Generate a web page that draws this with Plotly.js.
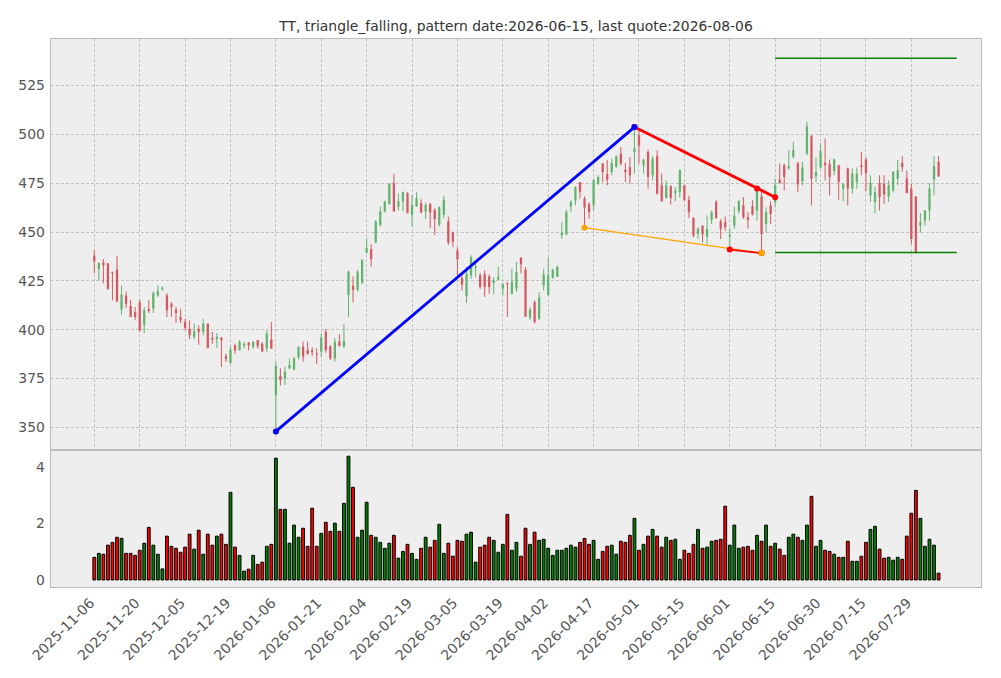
<!DOCTYPE html>
<html><head><meta charset="utf-8">
<script src="https://cdn.plot.ly/plotly-3.0.1.min.js"></script>
<style>html,body{margin:0;padding:0;background:#fff}#chart{width:1001px;height:678px}</style>
</head><body><div id="chart"></div>
<script>
const chartTitle = 'TT, triangle_falling, pattern date:2026-06-15, last quote:2026-08-06';

// tick labels (every 10th trading day)
const tickLabels = ['2025-11-06','2025-11-20','2025-12-05','2025-12-19','2026-01-06','2026-01-21','2026-02-04','2026-02-19','2026-03-05','2026-03-19','2026-04-02','2026-04-17','2026-05-01','2026-05-15','2026-06-01','2026-06-15','2026-06-30','2026-07-15','2026-07-29'];
const tickStep = 10;

const open = [437.9,431.0,434.4,434.0,429.4,430.8,410.4,417.5,412.1,409.0,
414.1,402.5,410.5,410.7,417.5,420.6,417.5,413.3,410.2,406.5,
403.9,400.5,396.3,400.5,398.8,403.1,395.7,395.2,395.9,386.4,
383.0,392.0,389.4,392.0,393.4,391.2,394.6,392.8,390.3,394.9,
366.6,376.3,375.1,380.2,379.7,385.9,391.3,389.6,389.3,387.9,
388.8,399.0,391.3,385.3,393.9,391.3,417.8,422.4,420.4,424.1,
439.5,441.2,444.6,453.7,460.5,464.4,475.0,463.0,465.6,469.9,
458.8,463.0,464.8,460.5,464.4,461.3,453.7,458.8,455.4,449.7,
440.5,426.5,417.1,427.8,431.7,427.8,428.3,427.3,423.9,425.6,
421.0,423.9,418.4,421.0,436.7,430.7,406.1,414.2,405.6,422.7,
417.6,426.6,427.0,448.3,448.8,463.1,466.2,475.6,467.1,464.2,
463.7,474.7,485.0,479.5,480.7,483.3,490.1,481.9,483.3,491.0,
499.5,484.1,491.0,479.0,488.8,473.9,467.5,473.4,469.9,470.4,
473.9,466.5,457.2,449.0,453.3,447.6,456.2,465.3,455.5,455.0,
447.6,453.3,460.7,463.6,457.6,463.1,461.0,468.2,454.1,463.6,
465.3,476.8,484.2,482.5,488.5,485.1,476.1,490.2,499.1,478.5,
483.0,485.4,484.7,481.3,484.2,472.2,482.5,472.2,475.6,484.2,
487.1,468.7,465.3,475.1,474.7,468.2,471.3,477.3,485.4,477.3,
472.2,468.2,453.3,455.8,461.0,476.8,485.9];

const high = [440.8,434.4,436.2,434.0,429.8,437.9,422.6,419.6,415.3,411.6,
415.3,411.6,415.0,419.6,422.6,422.1,418.7,414.1,411.6,410.7,
405.6,404.8,403.1,402.2,405.6,403.1,398.8,398.3,396.3,387.7,
391.5,392.8,394.6,393.7,393.7,394.2,394.9,393.7,399.7,403.9,
383.6,380.2,381.1,385.3,386.2,391.7,393.9,393.9,391.0,390.5,
398.2,400.4,392.2,395.6,397.6,402.9,430.1,427.2,430.6,436.1,
446.8,443.7,456.2,463.0,466.0,475.0,479.8,469.9,470.7,470.4,
469.0,470.4,466.8,465.1,464.8,462.2,463.0,468.5,457.9,450.2,
442.2,428.3,432.1,438.1,434.6,429.0,430.4,428.3,427.0,432.4,
423.9,424.1,431.2,434.6,437.2,432.1,411.6,415.0,419.3,431.2,
436.9,431.2,432.9,455.1,461.4,466.2,473.4,475.6,468.3,465.4,
477.3,479.0,485.3,487.0,487.5,489.2,493.5,485.3,488.4,503.8,
502.0,487.5,492.1,488.8,491.9,479.9,476.5,473.9,473.0,482.0,
473.9,468.7,457.6,452.4,453.3,458.4,461.0,466.5,456.7,457.9,
452.1,463.1,466.2,467.9,460.1,466.2,472.7,471.7,462.7,465.8,
477.3,485.1,485.1,491.9,496.2,485.9,485.9,506.5,499.7,488.1,
495.4,497.9,487.1,487.6,484.2,475.1,483.0,482.5,483.0,491.1,
488.1,479.0,473.0,479.0,479.0,476.5,481.1,486.8,488.8,481.3,
474.7,468.2,459.6,461.3,475.1,488.8,488.8];

const low = [428.9,425.2,423.8,420.4,415.0,414.1,407.8,411.1,406.5,404.8,
398.8,398.3,408.5,408.5,416.7,420.1,406.5,406.5,403.6,403.4,
399.7,395.1,395.1,392.3,397.1,390.3,392.8,390.6,380.9,383.5,
382.6,387.7,389.4,390.3,389.4,390.3,390.3,388.6,388.6,390.3,
347.8,371.3,371.7,379.7,379.0,384.8,383.6,387.1,386.5,382.4,
386.2,388.2,384.5,383.6,391.3,390.5,406.4,413.9,419.5,423.4,
439.1,432.3,444.3,452.8,460.0,463.9,460.5,461.0,460.5,459.6,
452.8,463.0,459.6,456.6,452.0,448.5,452.8,457.1,443.4,442.2,
428.0,420.1,413.6,426.1,427.0,421.0,416.7,418.4,418.1,425.3,
417.6,406.5,418.1,419.3,428.7,406.5,404.8,403.1,404.8,420.1,
417.6,426.1,427.0,446.6,448.3,460.2,463.7,467.1,452.2,456.8,
461.1,473.9,475.6,473.9,479.0,482.9,484.1,475.6,474.7,479.9,
485.0,479.9,472.2,476.5,469.2,465.3,467.0,464.1,465.8,467.5,
465.8,457.2,447.3,446.4,444.7,443.8,454.1,456.7,446.4,450.7,
441.1,451.6,459.3,456.7,451.6,458.4,455.8,439.0,449.8,454.1,
462.7,474.7,471.3,482.0,487.6,470.4,473.9,489.3,463.6,475.6,
482.5,476.5,468.7,479.0,466.5,465.8,463.6,469.6,472.2,479.0,
471.0,465.3,459.6,461.0,464.4,465.3,470.4,473.9,480.8,469.9,
443.8,439.0,449.8,453.3,455.8,468.7,478.2];

const close = [435.0,434.2,433.0,420.9,428.9,414.5,418.0,413.3,406.5,406.5,
399.7,409.9,409.5,418.7,419.7,421.6,409.9,411.6,408.5,404.8,
401.0,397.1,399.3,398.8,403.1,390.6,394.9,396.3,394.6,384.9,
389.8,389.4,393.7,392.8,392.0,393.7,391.5,388.9,398.0,390.3,
381.4,374.2,378.5,381.9,385.3,391.0,386.2,387.6,388.4,387.4,
395.9,389.6,385.3,393.9,391.7,394.2,429.7,420.4,429.7,435.7,
441.7,436.1,455.4,460.5,465.6,474.7,460.5,465.6,470.4,459.6,
463.9,467.3,460.0,463.9,460.0,456.6,462.7,466.5,444.6,445.1,
436.1,423.0,428.7,437.2,432.4,421.8,421.8,421.8,425.3,427.0,
423.2,423.2,424.4,429.5,433.4,406.8,410.2,403.9,416.4,428.3,
427.8,430.7,432.1,449.5,460.2,465.4,473.0,470.5,462.5,460.2,
476.5,478.2,480.7,476.8,485.3,488.7,485.0,480.7,479.0,492.7,
494.4,487.0,478.2,487.6,469.6,465.8,473.9,467.5,471.3,481.6,
466.5,460.1,448.1,451.6,449.0,451.6,460.1,457.2,451.6,452.4,
448.6,458.4,465.8,457.6,456.2,459.0,471.3,449.0,460.1,459.3,
473.9,475.1,478.2,483.7,491.9,474.4,483.0,504.0,477.3,480.8,
491.6,484.2,478.2,487.1,475.6,474.4,472.2,479.9,479.9,483.3,
480.2,475.1,470.4,467.9,469.2,473.9,480.8,481.6,483.3,469.9,
446.4,439.5,455.0,461.0,472.2,483.7,478.5];

const volume = [0.80,0.94,0.91,1.23,1.33,1.51,1.47,0.94,0.94,0.87,
1.05,1.30,1.86,1.23,0.91,0.39,1.55,1.19,1.12,0.98,
1.16,1.62,1.09,1.76,0.91,1.62,1.23,1.55,1.62,1.26,
3.10,1.16,0.87,0.31,0.38,0.87,0.55,0.63,1.19,1.26,
4.31,2.50,2.50,1.30,1.94,1.51,1.83,1.19,2.54,1.19,
1.65,2.04,1.72,2.01,1.72,2.71,4.38,3.28,1.51,1.76,
2.75,1.58,1.51,1.33,1.12,1.30,1.58,0.77,1.01,1.26,
0.94,0.73,1.12,1.51,1.16,1.40,1.97,0.94,1.30,0.84,
1.40,1.37,1.62,1.69,0.63,1.16,1.23,1.51,1.40,0.98,
1.26,2.32,1.05,1.33,0.84,1.83,1.26,1.69,1.40,1.44,
1.12,0.87,1.05,1.05,1.12,1.23,1.16,1.33,1.47,1.26,
1.40,0.73,1.01,1.19,1.23,0.91,1.37,1.33,1.58,2.18,
1.05,1.26,1.55,1.79,1.55,1.16,1.51,1.40,1.44,0.73,
1.05,0.94,1.26,1.79,1.12,1.16,1.37,1.40,1.44,2.61,
1.23,1.94,1.12,1.16,1.19,1.05,1.58,1.37,1.94,1.19,
1.30,1.09,0.87,1.51,1.62,1.51,1.40,1.94,2.96,1.19,
1.40,1.05,1.01,0.91,0.80,0.80,1.37,0.66,0.66,0.84,
1.33,1.79,1.90,1.09,0.77,0.80,0.70,0.80,0.73,1.55,
2.36,3.17,2.18,1.19,1.44,1.23,0.24];

// pattern lines
const riseX = [40, 119], riseY = [347.9, 503.7];
const fallX = [119, 146, 150], fallY = [503.7, 472.3, 467.8];
const supportX = [108, 147], supportY = [452.2, 439.2];
const lowLinkX = [140, 147], lowLinkY = [441.0, 439.2];
const targetX = [150, 190], targetHighY = [538.9, 538.9], targetLowY = [439.5, 439.5];

const GREEN = '#62b36c', RED = '#d5575f';
const idx = open.map((_, i) => i);
const up = close.map((c, i) => c >= open[i]);
const cColor = up.map(u => u ? GREEN : RED);
const vColor = up.map(u => u ? '#008000' : '#ff0000');
const tickVals = tickLabels.map((_, k) => k * tickStep);

const traces = [
  {type:'bar', x:idx, base:low, y:high.map((h,i)=>h-low[i]), width:0.22,
   marker:{color:cColor, line:{width:0}}, xaxis:'x', yaxis:'y', hoverinfo:'skip', showlegend:false},
  {type:'bar', x:idx, base:open.map((o,i)=>Math.min(o,close[i])),
   y:open.map((o,i)=>Math.max(Math.abs(close[i]-o),0.25)), width:0.5,
   marker:{color:cColor, line:{width:0}}, xaxis:'x', yaxis:'y', hoverinfo:'skip', showlegend:false},
  {type:'scatter', mode:'lines', x:targetX, y:targetHighY, line:{color:'#008000', width:1.5}, xaxis:'x', yaxis:'y', showlegend:false},
  {type:'scatter', mode:'lines', x:targetX, y:targetLowY, line:{color:'#008000', width:1.5}, xaxis:'x', yaxis:'y', showlegend:false},
  {type:'scatter', mode:'lines+markers', x:supportX, y:supportY, line:{color:'#ffa500', width:1.2}, marker:{color:'#ffa500', size:6}, xaxis:'x', yaxis:'y', showlegend:false},
  {type:'scatter', mode:'lines+markers', x:lowLinkX, y:lowLinkY, line:{color:'#ff0000', width:1.6}, marker:{color:'#ff0000', size:6}, xaxis:'x', yaxis:'y', showlegend:false},
  {type:'scatter', mode:'markers', x:supportX.slice(1), y:supportY.slice(1), marker:{color:'#ffa500', size:6}, xaxis:'x', yaxis:'y', showlegend:false},
  {type:'scatter', mode:'lines+markers', x:fallX, y:fallY, line:{color:'#ff0000', width:2.8}, marker:{color:'#ff0000', size:6}, xaxis:'x', yaxis:'y', showlegend:false},
  {type:'scatter', mode:'lines+markers', x:riseX, y:riseY, line:{color:'#0000ff', width:2.8}, marker:{color:'#0000ff', size:6}, xaxis:'x', yaxis:'y', showlegend:false},
  {type:'bar', x:idx, y:volume, width:0.62, marker:{color:vColor, line:{color:'#000000', width:1}},
   xaxis:'x2', yaxis:'y2', hoverinfo:'skip', showlegend:false}
];

const frame = {showline:true, mirror:true, linecolor:'#bcbcbc', linewidth:1.4, zeroline:false};
const tickFont = {family:'DejaVu Sans, sans-serif', size:13.9, color:'#555555'};
const grid = {showgrid:true, gridcolor:'#b6b6b6', gridwidth:0.8, griddash:'3px,2px'};
const xr = [-9.54, 195.35];

const layout = {
  width:1001, height:678,
  margin:{l:51, r:20, t:39, b:91, pad:0},
  paper_bgcolor:'#ffffff', plot_bgcolor:'#eeeeee',
  barmode:'overlay', showlegend:false,
  title:{text:chartTitle, x:0.5, xref:'paper', xanchor:'center', y:1-26/678, yref:'container', yanchor:'middle',
         font:{family:'DejaVu Sans, sans-serif', size:13.9, color:'#333333'}},
  xaxis:Object.assign({anchor:'y', domain:[0,1], range:xr, tickvals:tickVals, ticktext:tickLabels, showticklabels:false, ticks:''}, frame, grid),
  xaxis2:Object.assign({anchor:'y2', domain:[0,1], range:xr, matches:'x', tickvals:tickVals, ticktext:tickLabels, tickangle:-45,
         tickfont:tickFont, ticks:'outside', ticklen:1, tickcolor:'rgba(0,0,0,0)', ticklabelshift:-4, showgrid:false}, frame),
  yaxis:Object.assign({anchor:'x', domain:[0.25,1], range:[338.4,548.8], tickvals:[350,375,400,425,450,475,500,525],
         tickfont:tickFont, ticks:'outside', ticklen:2, tickcolor:'rgba(0,0,0,0)'}, frame, grid),
  yaxis2:Object.assign({anchor:'x2', domain:[0,0.25], range:[-0.25,4.6], tickvals:[0,2,4],
         tickfont:tickFont, ticks:'outside', ticklen:2, tickcolor:'rgba(0,0,0,0)', showgrid:false}, frame)
};

Plotly.newPlot('chart', traces, layout, {displayModeBar:false, staticPlot:true});
</script>
</body></html>
